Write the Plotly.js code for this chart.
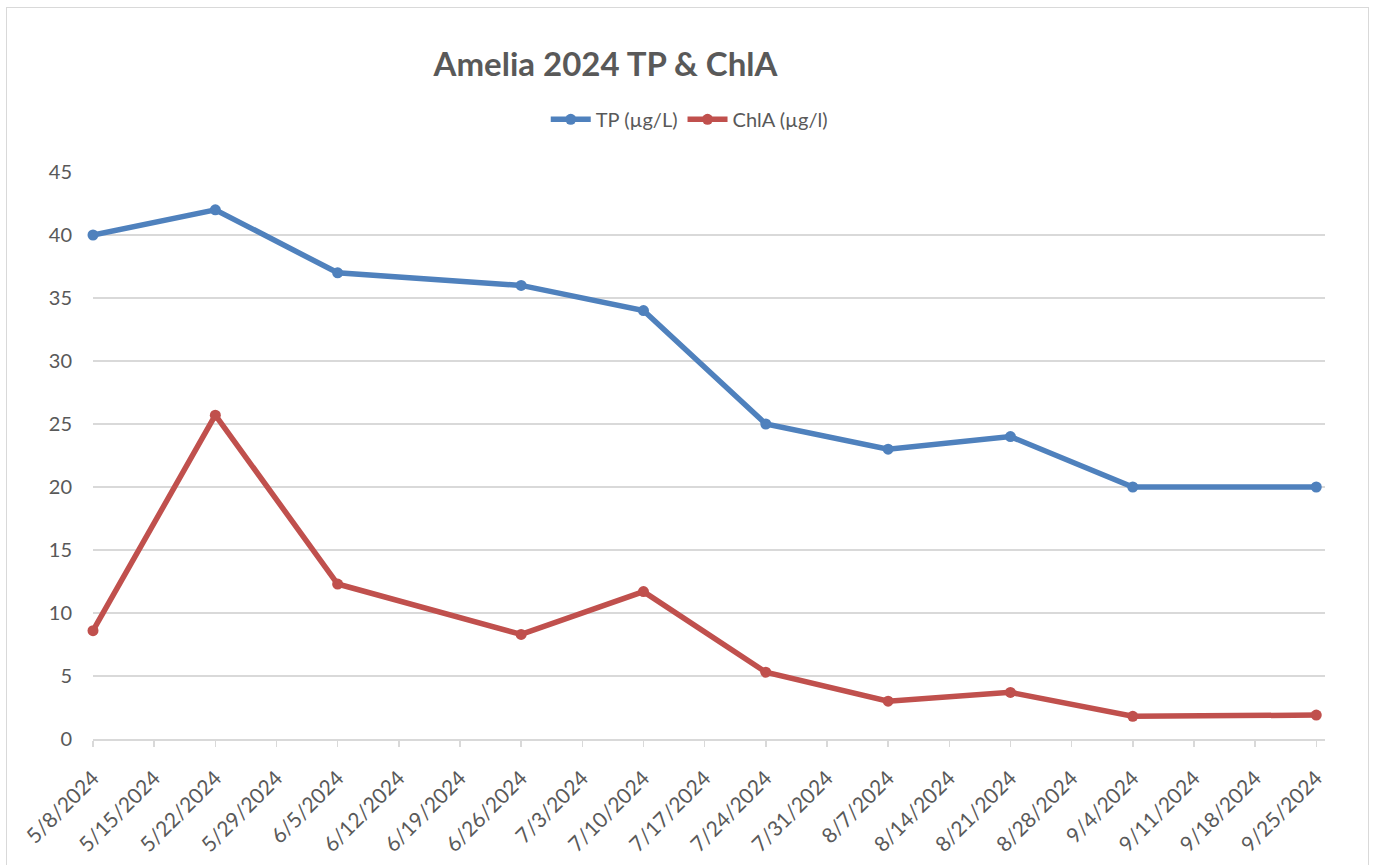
<!DOCTYPE html>
<html>
<head>
<meta charset="utf-8">
<script src="https://cdn.plot.ly/plotly-3.0.1.min.js"></script>
<style>
  html, body { margin: 0; padding: 0; background: #ffffff; }
  #chart { position: absolute; left: 0; top: 0; width: 1373px; height: 865px; }
  #frame { position: absolute; left: 6px; top: 7px; width: 1361px; height: 880px;
           border: 1px solid #d9d9d9; pointer-events: none; }
</style>
</head>
<body>
<div id="chart"></div>
<div id="frame"></div>
<script>
const dates = ['2024-05-08', '2024-05-22', '2024-06-05', '2024-06-26', '2024-07-10',
               '2024-07-24', '2024-08-07', '2024-08-21', '2024-09-04', '2024-09-25'];
const tpValues = [40, 42, 37, 36, 34, 25, 23, 24, 20, 20];
const chlaValues = [8.6, 25.7, 12.3, 8.3, 11.7, 5.3, 3.0, 3.7, 1.8, 1.9];
const seriesNames = ['TP (µg/L)', 'ChlA (µg/l)'];
const chartTitle = 'Amelia 2024 TP & ChlA';

const FONT = 'Lato, "Open Sans", sans-serif';
const TXT = '#595959';

const traces = [
  {
    x: dates, y: tpValues, name: seriesNames[0], type: 'scatter', mode: 'lines+markers',
    line: { color: '#4f81bd', width: 5.5 },
    marker: { color: '#4f81bd', size: 11 },
    cliponaxis: false
  },
  {
    x: dates, y: chlaValues, name: seriesNames[1], type: 'scatter', mode: 'lines+markers',
    line: { color: '#c0504d', width: 5.5 },
    marker: { color: '#c0504d', size: 11 },
    cliponaxis: false
  }
];

const layout = {
  width: 1373, height: 865,
  paper_bgcolor: '#ffffff', plot_bgcolor: '#ffffff',
  margin: { l: 93, r: 48, t: 172, b: 126 },
  font: { family: FONT, color: TXT, size: 20 },
  title: {
    text: '<b>' + chartTitle + '</b>',
    font: { family: FONT, size: 33, color: TXT },
    x: 0.441, xref: 'container', xanchor: 'center',
    y: 0.925, yref: 'container', yanchor: 'middle'
  },
  showlegend: true,
  legend: {
    orientation: 'h', x: 0.502, xref: 'container', xanchor: 'center',
    y: 0.862, yref: 'container', yanchor: 'middle',
    font: { family: FONT, size: 20, color: TXT },
    itemwidth: 40
  },
  xaxis: {
    type: 'date',
    range: ['2024-05-08', '2024-09-26'],
    tick0: '2024-05-08', dtick: 7 * 24 * 3600 * 1000,
    tickformat: '%-m/%-d/%Y',
    tickangle: -45,
    showgrid: false,
    showline: true, linecolor: '#d9d9d9', linewidth: 1.5,
    ticks: 'outside', ticklen: 6, tickcolor: '#d9d9d9', tickwidth: 1.5,
    ticklabelstandoff: 11,
    tickfont: { family: FONT, size: 21, color: TXT },
    zeroline: false
  },
  yaxis: {
    range: [0, 45], dtick: 5, tick0: 0,
    showgrid: true, gridcolor: '#d9d9d9', gridwidth: 1.5,
    showline: false, ticks: '', zeroline: false,
    ticklabelstandoff: 20,
    tickfont: { family: FONT, size: 20, color: TXT }
  }
};

Plotly.newPlot('chart', traces, layout, { displayModeBar: false, staticPlot: true });
</script>
</body>
</html>
